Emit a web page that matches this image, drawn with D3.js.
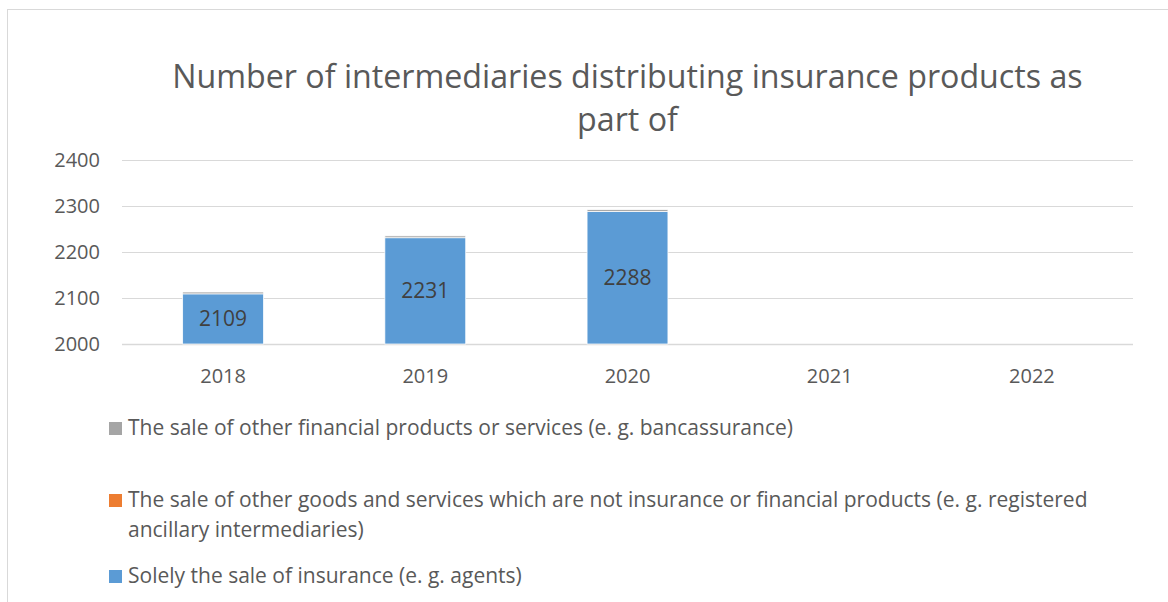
<!DOCTYPE html>
<html>
<head>
<meta charset="utf-8">
<script src="https://cdn.jsdelivr.net/npm/d3@7"></script>
<style>
  body { margin: 0; background: #fff; }
  svg text { font-family: "Open Sans", "Noto Sans", sans-serif; }
</style>
</head>
<body>
<svg id="chart" width="1168" height="602"></svg>
<script>
const years = ['2018', '2019', '2020', '2021', '2022'];
const solelyInsurance = [2109, 2231, 2288, null, null];
const otherGoods = [0, 0, 0, null, null];
const otherFinancial = [4, 4, 4, null, null];
const yTicks = [2000, 2100, 2200, 2300, 2400];

const seriesNames = [
  'Solely the sale of insurance (e. g. agents)',
  'The sale of other goods and services which are not insurance or financial products (e. g. registered ancillary intermediaries)',
  'The sale of other financial products or services (e. g. bancassurance)'
];
const seriesColors = ['#5b9bd5', '#ed7d31', '#a5a5a5'];

const plotLeft = 122, plotRight = 1133, plotTop = 160, plotBottom = 344;
const svg = d3.select('#chart');

// outer chart frame (cut off at the right and bottom)
svg.append('rect')
  .attr('x', 7.5).attr('y', 9.5)
  .attr('width', 1200).attr('height', 700)
  .attr('fill', '#fff').attr('stroke', '#d9d9d9');

const x = d3.scaleBand().domain(years).range([plotLeft, plotRight]).paddingInner(0.6).paddingOuter(0.3);
const y = d3.scaleLinear().domain([2000, 2400]).range([plotBottom, plotTop]);

// fit a text element to a target width by tweaking font-size
function fit(sel, target) {
  const node = sel.node();
  const size = parseFloat(sel.attr('font-size'));
  const len = node.getComputedTextLength();
  sel.attr('font-size', size * target / len);
  return sel;
}

// title
const title = svg.append('g').attr('fill', '#595959');
const t1 = fit(title.append('text')
  .attr('x', 627.5).attr('y', 88)
  .attr('text-anchor', 'middle')
  .attr('font-size', 30)
  .text('Number of intermediaries distributing insurance products as'), 911);
title.append('text')
  .attr('x', 627.5).attr('y', 131)
  .attr('text-anchor', 'middle')
  .attr('font-size', t1.attr('font-size'))
  .text('part of');

// gridlines
svg.append('g')
  .selectAll('line')
  .data(yTicks)
  .join('line')
  .attr('x1', plotLeft).attr('x2', plotRight)
  .attr('y1', d => y(d) + 0.5).attr('y2', d => y(d) + 0.5)
  .attr('stroke', '#d9d9d9')
  .attr('stroke-width', d => d === 2000 ? 1.5 : 1);

// y axis
const yAxis = svg.append('g')
  .attr('transform', `translate(${plotLeft - 22},0)`)
  .call(d3.axisLeft(y).tickValues(yTicks).tickSize(0).tickPadding(0).tickFormat(d3.format('d')));
yAxis.select('.domain').remove();
yAxis.selectAll('text')
  .attr('fill', '#595959')
  .attr('font-size', 20)
  .style('font-family', '"Open Sans", sans-serif');

// x axis
const xAxis = svg.append('g')
  .attr('transform', `translate(0,${plotBottom})`)
  .call(d3.axisBottom(x).tickSize(0).tickPadding(25));
xAxis.select('.domain').remove();
xAxis.selectAll('text')
  .attr('fill', '#595959')
  .attr('font-size', 20)
  .style('font-family', '"Open Sans", sans-serif');

// stacked bars
const rows = years.map((yr, i) => ({
  year: yr,
  s0: solelyInsurance[i] || 0,
  s1: otherGoods[i] || 0,
  s2: otherFinancial[i] || 0
}));
const stack = d3.stack().keys(['s0', 's1', 's2']);
const layers = stack(rows);

const barGroups = svg.append('g')
  .selectAll('g')
  .data(layers)
  .join('g')
  .attr('fill', (d, i) => seriesColors[i]);

barGroups.selectAll('rect')
  .data(d => d.filter(p => p[1] - p[0] > 0))
  .join('rect')
  .attr('x', d => x(d.data.year))
  .attr('width', x.bandwidth())
  .attr('y', d => y(Math.max(d[1], 2000)))
  .attr('height', d => y(Math.max(d[0], 2000)) - y(Math.max(d[1], 2000)))
  .attr('stroke', '#fff')
  .attr('stroke-width', 0.75);

// data labels in the blue series
svg.append('g')
  .selectAll('text')
  .data(layers[0].filter(p => p[1] > 0))
  .join('text')
  .attr('x', d => x(d.data.year) + x.bandwidth() / 2)
  .attr('y', d => (y(2000) + y(d[1])) / 2 + 7)
  .attr('text-anchor', 'middle')
  .attr('fill', '#404040')
  .attr('font-size', 21)
  .text(d => d[1]);

// legend (reverse order, top to bottom)
const legendItems = [
  { color: seriesColors[2], y: 435, lines: [seriesNames[2]] },
  { color: seriesColors[1], y: 507,
    lines: ['The sale of other goods and services which are not insurance or financial products (e. g. registered', 'ancillary intermediaries)'] },
  { color: seriesColors[0], y: 583, lines: [seriesNames[0]] }
];
const legend = svg.append('g');
legendItems.forEach(item => {
  legend.append('rect')
    .attr('x', 109).attr('y', item.y - 13)
    .attr('width', 13).attr('height', 13)
    .attr('fill', item.color);
  const t = legend.append('text')
    .attr('fill', '#595959')
    .attr('font-size', 18);
  item.lines.forEach((ln, j) => {
    t.append('tspan')
      .attr('x', 128)
      .attr('y', item.y + j * 30)
      .text(ln);
  });
});
// match legend font size to the reference width of the first entry
const probe = legend.select('text');
const lw = probe.node().getComputedTextLength();
legend.selectAll('text').attr('font-size', 18 * 665 / lw);
</script>
</body>
</html>
